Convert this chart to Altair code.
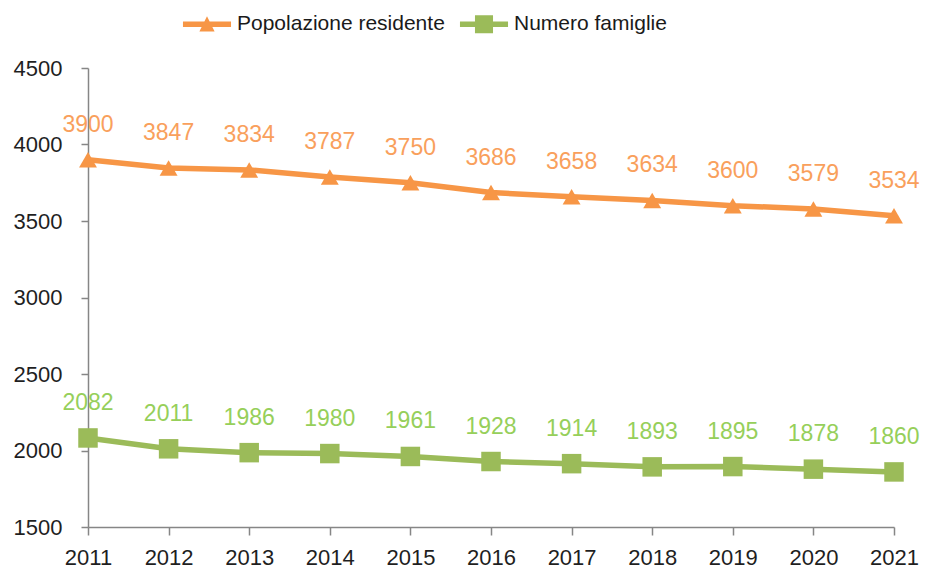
import altair as alt
import pandas as pd

years = [2011, 2012, 2013, 2014, 2015, 2016, 2017, 2018, 2019, 2020, 2021]
popolazione = [3900, 3847, 3834, 3787, 3750, 3686, 3658, 3634, 3600, 3579, 3534]
famiglie = [2082, 2011, 1986, 1980, 1961, 1928, 1914, 1893, 1895, 1878, 1860]
series = ["Popolazione residente", "Numero famiglie"]
y_ticks = [1500, 2000, 2500, 3000, 3500, 4000, 4500]

ORANGE = "#F79646"
GREEN = "#9BBB59"
ORANGE_LBL = "#F9A05C"
GREEN_LBL = "#96CF5A"
FONT = "Liberation Sans"

rows = []
for y, v in zip(years, popolazione):
    rows.append({"anno": y, "valore": v, "serie": series[0]})
for y, v in zip(years, famiglie):
    rows.append({"anno": y, "valore": v, "serie": series[1]})
df = pd.DataFrame(rows)

TRI = "M-2.53,-0.3H2.53V0.3H-2.53Z M-0.8,0.75L0,-0.85L0.8,0.75Z"
SQR = "M-2.53,-0.3H2.53V0.3H-2.53Z M-0.95,-0.95H0.95V0.95H-0.95Z"

legend = alt.Legend(
    orient="none", legendX=108.5, legendY=-54.5, direction="horizontal",
    title=None, symbolSize=361, labelOffset=19.5, columnPadding=14,
    labelFontSize=21, labelFont=FONT, labelColor="#1a1a1a", padding=0,
    labelLimit=0, symbolOpacity=1, symbolStrokeWidth=0,
)

x = alt.X("anno:Q", scale=alt.Scale(domain=[2011, 2021], nice=False, zero=False),
          axis=alt.Axis(values=years, format="d", title=None, tickSize=8,
                        labelPadding=12, labelFontSize=22, labelFont=FONT,
                        labelColor="#1f1f1f", grid=False, labelFlush=False))
y = alt.Y("valore:Q", scale=alt.Scale(domain=[1500, 4500], nice=False, zero=False),
          axis=alt.Axis(values=y_ticks, format="d", title=None, tickSize=7,
                        labelPadding=19, labelFontSize=22, labelFont=FONT,
                        labelColor="#1f1f1f", grid=False))
color_scale = alt.Scale(domain=series, range=[ORANGE, GREEN])

base = alt.Chart(df).encode(x=x, y=y)
pop = base.transform_filter(alt.datum.serie == series[0])
fam = base.transform_filter(alt.datum.serie == series[1])

line_pop = pop.mark_line(strokeWidth=5.5, color=ORANGE)
line_fam = fam.mark_line(strokeWidth=5.5, color=GREEN)

pts_pop = pop.mark_point(filled=True, size=320, opacity=1, shape="triangle-up", color=ORANGE)
pts_fam = fam.mark_point(filled=True, size=380, opacity=1, shape="square", color=GREEN)

lbl_pop = pop.mark_text(dy=-35, fontSize=23, font=FONT, color=ORANGE_LBL).encode(text="valore:Q")
lbl_fam = fam.mark_text(dy=-35, fontSize=23, font=FONT, color=GREEN_LBL).encode(text="valore:Q")

legend_layer = alt.Chart(df).mark_point(filled=True, opacity=0, strokeWidth=0).encode(
    x=x, y=y,
    color=alt.Color("serie:N", scale=color_scale, legend=legend),
    shape=alt.Shape("serie:N", scale=alt.Scale(domain=series, range=[TRI, SQR]),
                    legend=legend),
)

chart = alt.layer(line_pop, line_fam, pts_pop, pts_fam, lbl_pop, lbl_fam, legend_layer).properties(
    width=806, height=459,
    padding={"left": 80, "top": 60, "right": 27, "bottom": 44},
    autosize=alt.AutoSizeParams(type="none"),
).configure_view(stroke=None).configure_axis(
    domainColor="#868686", tickColor="#868686", domainWidth=1.5, tickWidth=1.5
)

chart.save("out.html", embed_options={"renderer": "svg", "actions": False})
